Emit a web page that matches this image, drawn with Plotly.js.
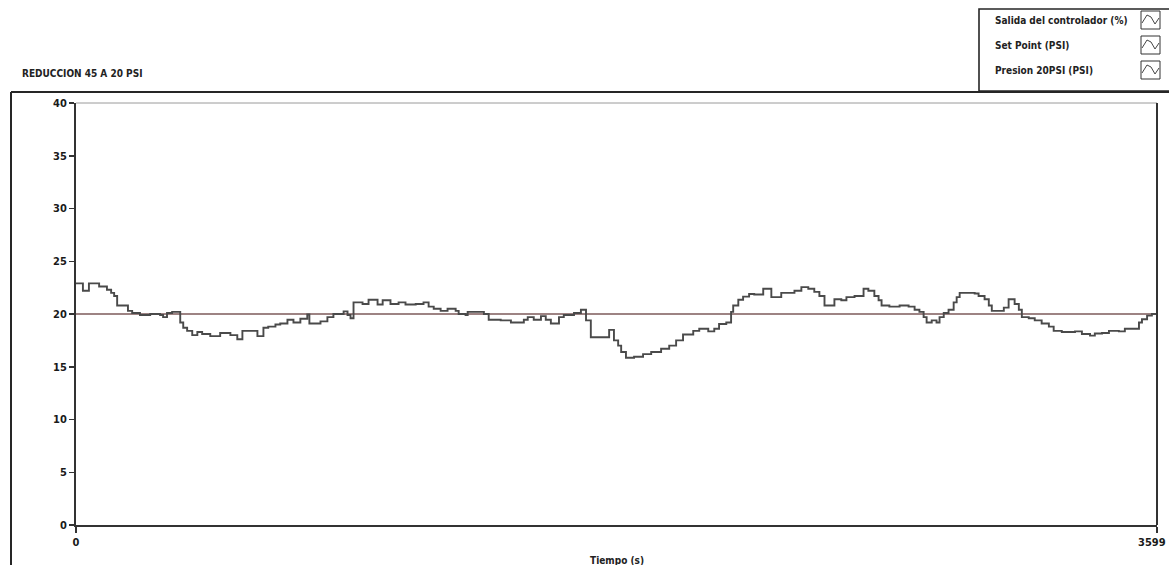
<!DOCTYPE html>
<html>
<head>
<meta charset="utf-8">
<script src="https://cdn.plot.ly/plotly-3.0.1.min.js"></script>
<style>
  html, body { margin: 0; padding: 0; background: #ffffff; }
  #chart { width: 1169px; height: 565px; }
</style>
</head>
<body>
<div id="chart"></div>
<script>
// Pressure reduction test: controller output steps vs. set point
const tiempo = [0, 23, 43, 77, 103, 117, 127, 137, 173, 187, 213, 247, 280, 290, 303, 320,
  347, 357, 370, 387, 404, 420, 447, 480, 514, 537, 554, 604, 624, 640, 664, 680,
  704, 724, 747, 770, 777, 814, 837, 857, 891, 904, 914, 924, 954, 974, 1004, 1021,
  1047, 1074, 1097, 1131, 1157, 1174, 1191, 1214, 1237, 1264, 1274, 1297, 1304, 1358,
  1374, 1414, 1448, 1491, 1504, 1524, 1548, 1564, 1581, 1608, 1624, 1658, 1681, 1698,
  1714, 1775, 1791, 1805, 1815, 1831, 1858, 1888, 1915, 1948, 1975, 1998, 2021, 2055,
  2075, 2105, 2125, 2141, 2165, 2181, 2188, 2205, 2221, 2241, 2258, 2288, 2315, 2348,
  2392, 2415, 2438, 2458, 2475, 2492, 2525, 2548, 2565, 2592, 2622, 2638, 2658, 2672,
  2682, 2708, 2742, 2772, 2792, 2808, 2822, 2832, 2849, 2865, 2875, 2889, 2905, 2922,
  2932, 2942, 2992, 3005, 3025, 3039, 3049, 3089, 3105, 3125, 3139, 3149, 3172, 3192,
  3215, 3239, 3255, 3282, 3326, 3349, 3376, 3392, 3416, 3439, 3472, 3492, 3539, 3549,
  3566, 3582, 3599];

const presion = [22.9, 22.2, 22.9, 22.6, 22.3, 22.0, 21.7, 20.8, 20.3, 20.1, 19.9, 20.0, 19.9, 19.7, 20.1, 20.2,
  19.2, 18.7, 18.4, 18.0, 18.3, 18.1, 17.9, 18.2, 18.0, 17.6, 18.4, 17.9, 18.7, 18.8, 19.0, 19.1,
  19.45, 19.2, 19.55, 19.95, 19.1, 19.3, 19.7, 20.0, 20.25, 19.9, 19.6, 21.1, 20.95, 21.35, 20.9, 21.3,
  20.95, 21.1, 20.9, 20.95, 21.1, 20.7, 20.5, 20.3, 20.5, 20.3, 20.0, 19.9, 20.2, 20.0,
  19.45, 19.4, 19.2, 19.45, 19.7, 19.45, 19.8, 19.45, 19.1, 19.7, 19.9, 20.1, 20.4, 19.4,
  17.8, 18.5, 17.5, 17.0, 16.4, 15.85, 15.95, 16.2, 16.4, 16.7, 17.0, 17.5, 18.05, 18.4,
  18.6, 18.35, 18.6, 19.05, 19.2, 20.2, 20.8, 21.35, 21.65, 21.9, 21.85, 22.4, 21.6, 22.0,
  22.2, 22.55, 22.4, 22.1, 21.7, 20.8, 21.4, 21.3, 21.6, 21.7, 22.4, 22.2, 21.7, 21.3,
  20.8, 20.7, 20.8, 20.7, 20.4, 20.2, 19.7, 19.2, 19.4, 19.2, 19.7, 20.1, 20.4, 21.1,
  21.6, 22.0, 21.95, 21.7, 21.4, 20.8, 20.3, 20.6, 21.4, 20.95, 20.4, 19.7, 19.6, 19.4,
  19.1, 18.8, 18.4, 18.3, 18.35, 18.1, 17.95, 18.15, 18.2, 18.4, 18.35, 18.6, 19.2, 19.5,
  19.85, 20.0, 20.0];

const setPointTiempo = [0, 3599];
const setPointValor = [20, 20];

const yTicks = [0, 5, 10, 15, 20, 25, 30, 35, 40];
const xTicks = [0, 3599];

const leyenda = ['Salida del controlador (%)', 'Set Point (PSI)', 'Presion 20PSI (PSI)'];
const tituloGrafico = 'REDUCCION 45 A 20 PSI';
const tituloEjeX = 'Tiempo (s)';

// page geometry (pixels) used to place the frame, legend panel and labels
const W = 1169, H = 565;
const L = 76, R = 1157, T = 103, B = 525;
const px = x => (x - L) / (R - L);
const py = y => (B - y) / (B - T);

const fontCond = "'Liberation Sans Narrow', 'DejaVu Sans Condensed', 'Noto Sans', sans-serif";
const tickFont = { family: fontCond, size: 11, color: '#1a1a1a', weight: 'bold' };

const traces = [
  {
    x: setPointTiempo, y: setPointValor, type: 'scatter', mode: 'lines',
    line: { color: '#7d5a5a', width: 1.6 }, hoverinfo: 'skip', showlegend: false
  },
  {
    x: tiempo, y: presion, type: 'scatter', mode: 'lines',
    line: { color: '#4a4a4a', width: 1.9, shape: 'hv' }, showlegend: false
  }
];

const shapes = [];
const annotations = [];

// outer frame of the graph panel
shapes.push({ type: 'line', xref: 'paper', yref: 'paper', x0: px(11), x1: px(11), y0: py(92), y1: py(566),
  line: { color: '#262626', width: 2 } });
shapes.push({ type: 'line', xref: 'paper', yref: 'paper', x0: px(11), x1: px(1170), y0: py(92), y1: py(92),
  line: { color: '#262626', width: 2 } });

// plot box: light top edge, dark right edge
shapes.push({ type: 'line', xref: 'paper', yref: 'paper', x0: 0, x1: 1, y0: 1, y1: 1,
  line: { color: '#9a9a9a', width: 1 } });
shapes.push({ type: 'line', xref: 'paper', yref: 'paper', x0: 1, x1: 1, y0: 0, y1: 1,
  line: { color: '#333333', width: 2 } });

// legend panel
shapes.push({ type: 'rect', xref: 'paper', yref: 'paper', x0: px(979), x1: px(1172), y0: py(9), y1: py(91),
  line: { color: '#262626', width: 1.6 }, fillcolor: 'rgba(255,255,255,0)' });
const rowY = [20, 45, 70];
leyenda.forEach((txt, i) => {
  annotations.push({ xref: 'paper', yref: 'paper', x: px(993), y: py(rowY[i]), xanchor: 'left', yanchor: 'middle',
    text: '<b>' + txt + '</b>', showarrow: false,
    font: { family: fontCond, size: 10, color: '#222222' } });
  const x0 = 1141, x1 = 1160, y0 = rowY[i] - 9, y1 = rowY[i] + 9;
  shapes.push({ type: 'rect', xref: 'paper', yref: 'paper', x0: px(x0), x1: px(x1), y0: py(y0), y1: py(y1),
    line: { color: '#333333', width: 1 } });
  const path = 'M ' + px(x0 + 1) + ',' + py(y0 + 12) + ' L ' + px(x0 + 6) + ',' + py(y0 + 4) +
    ' L ' + px(x0 + 10) + ',' + py(y0 + 6) + ' L ' + px(x0 + 14) + ',' + py(y0 + 13) +
    ' L ' + px(x1 - 1) + ',' + py(y0 + 7);
  shapes.push({ type: 'path', xref: 'paper', yref: 'paper', path: path,
    line: { color: '#444444', width: 1 } });
});

// graph title, upper left
annotations.push({ xref: 'paper', yref: 'paper', x: px(20), y: py(73), xanchor: 'left', yanchor: 'middle',
  text: '<b>' + tituloGrafico + '</b>', showarrow: false,
  font: { family: fontCond, size: 10, color: '#222222' } });

// x axis name, at the lower edge
annotations.push({ xref: 'paper', yref: 'paper', x: px(617), y: py(560), xanchor: 'center', yanchor: 'middle',
  text: '<b>' + tituloEjeX + '</b>', showarrow: false,
  font: { family: fontCond, size: 10, color: '#222222' } });

// last x tick label sits against the right edge, so it is right-aligned under its tick
annotations.push({ xref: 'x', yref: 'paper', x: xTicks[xTicks.length - 1], y: py(542),
  xanchor: 'right', xshift: 11, yanchor: 'middle',
  text: String(xTicks[xTicks.length - 1]), showarrow: false, font: tickFont });

const layout = {
  width: W, height: H,
  margin: { l: L, r: W - R, t: T, b: H - B, pad: 0 },
  paper_bgcolor: '#ffffff', plot_bgcolor: '#ffffff',
  showlegend: false,
  xaxis: {
    range: [0, 3599], tickvals: xTicks,
    ticktext: xTicks.map((v, i) => (i === xTicks.length - 1 ? '' : String(v))),
    showgrid: false, zeroline: false, showline: true, linecolor: '#333333', linewidth: 2,
    ticks: 'outside', ticklen: 6, tickwidth: 1.5, tickcolor: '#333333',
    tickfont: tickFont,
    fixedrange: true
  },
  yaxis: {
    range: [0, 40], tickvals: yTicks, ticktext: yTicks.map(String),
    showgrid: false, zeroline: false, showline: true, linecolor: '#333333', linewidth: 2,
    ticks: 'outside', ticklen: 5, tickwidth: 1.5, tickcolor: '#333333',
    tickfont: tickFont,
    fixedrange: true
  },
  shapes: shapes,
  annotations: annotations
};

Plotly.newPlot('chart', traces, layout, { displayModeBar: false, staticPlot: true });
</script>
</body>
</html>
